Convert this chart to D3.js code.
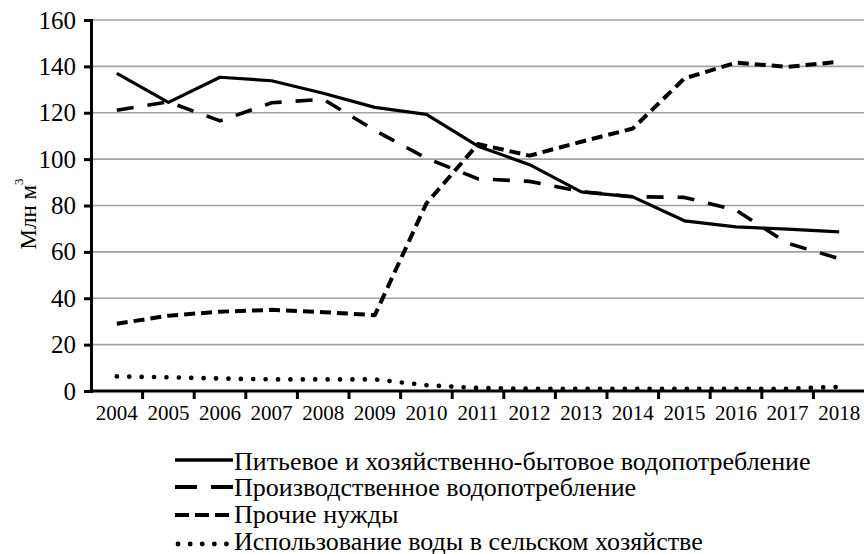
<!DOCTYPE html>
<html><head><meta charset="utf-8">
<script src="https://cdn.jsdelivr.net/npm/d3@7"></script>
<style>
html,body{margin:0;padding:0;background:#fff;}
svg{display:block;}
svg text{font-family:"Liberation Serif","Times New Roman",serif !important;}
</style></head>
<body>
<svg id="chart" width="864" height="554"></svg>
<script>
const years = ["2004","2005","2006","2007","2008","2009","2010","2011","2012","2013","2014","2015","2016","2017","2018"];
const drinking   = [137,124.5,135.3,133.8,128.4,122.3,119.3,105.6,97.6,85.9,83.7,73.4,70.8,69.8,68.6];
const industrial = [121.1,124.7,116.5,124.3,125.8,112.4,100.4,91.5,90.4,86,83.8,83.5,78,63.7,57.1];
const other      = [29,32.5,34.2,35,34,32.7,80.9,106.5,101.5,107.5,113.2,134.8,141.6,139.8,142];
const agriculture= [6.3,5.9,5.4,5,5,5,2.5,1.3,1,1,1,1,1,1,1.8];
const yTicks = [0,20,40,60,80,100,120,140,160];
const seriesNames = [
  "Питьевое и хозяйственно-бытовое водопотребление",
  "Производственное водопотребление",
  "Прочие нужды",
  "Использование воды в сельском хозяйстве"
];

const FONT = "Liberation Serif";
const svg = d3.select("#chart");
const mLeft = 91, mRight = 865, mTop = 20, mBottom = 391;

const x = d3.scaleBand().domain(years).range([mLeft, mRight]).padding(0);
const y = d3.scaleLinear().domain([0,160]).range([mBottom, mTop]);

// gridlines
svg.append("g").selectAll("line").data(yTicks.filter(d=>d>0)).join("line")
  .attr("x1", mLeft).attr("x2", 864)
  .attr("y1", d=>y(d)).attr("y2", d=>y(d))
  .attr("stroke", "#a0a0a0").attr("stroke-width", 1.6);

// y axis
const yAxis = svg.append("g").attr("transform", `translate(${mLeft},0)`)
  .call(d3.axisLeft(y).tickValues(yTicks).tickSize(7).tickPadding(8));
yAxis.attr("font-family", FONT);
yAxis.select(".domain").attr("stroke","#000").attr("stroke-width",3);
yAxis.selectAll(".tick line").attr("stroke","#000").attr("stroke-width",3);
yAxis.selectAll(".tick text").attr("font-size", 25).attr("fill","#000")
  .style("font-family", FONT);

// x axis
const xAxis = svg.append("g").attr("transform", `translate(0,${mBottom})`)
  .call(d3.axisBottom(x).tickSize(0).tickPadding(13));
xAxis.attr("font-family", FONT);
xAxis.select(".domain").remove();
xAxis.selectAll(".tick text").attr("font-size", 21).attr("fill","#000")
  .style("font-family", FONT).attr("dy","0.75em");
svg.append("line").attr("x1", mLeft-1.5).attr("x2", 864).attr("y1", mBottom).attr("y2", mBottom)
  .attr("stroke","#000").attr("stroke-width",3);
svg.append("g").selectAll("line").data(years.slice(1)).join("line")
  .attr("x1", d=>x(d)).attr("x2", d=>x(d))
  .attr("y1", mBottom).attr("y2", mBottom+8)
  .attr("stroke","#000").attr("stroke-width",3);

// y label
const yl = svg.append("text")
  .attr("transform", "translate(36,214) rotate(-90)")
  .attr("text-anchor","middle").attr("font-size",23).attr("fill","#000")
  .style("font-family", FONT);
yl.append("tspan").text("Млн м");
yl.append("tspan").text("3").attr("font-size",13).attr("dy",-13);

// lines
const styles = [
  {data: drinking, dash: null, width: 3.2, cap: "butt"},
  {data: industrial, dash: "17 14", width: 3.6, cap: "butt"},
  {data: other, dash: "11 6", width: 4, cap: "butt"},
  {data: agriculture, dash: "0.1 12.3", width: 4.6, cap: "round"}
];
const line = d3.line().x((d,i)=>x(years[i]) + x.bandwidth()/2).y(d=>y(d));
styles.forEach(s => {
  svg.append("path").datum(s.data)
    .attr("d", line)
    .attr("fill","none").attr("stroke","#000")
    .attr("stroke-width", s.width)
    .attr("stroke-linecap", s.cap)
    .attr("stroke-linejoin","round")
    .attr("stroke-dasharray", s.dash);
});

// legend
const legendStyles = [
  {dash: null, width: 3.6, cap: "butt"},
  {dash: "22 14", width: 4, cap: "butt"},
  {dash: "14 6", width: 4, cap: "butt"},
  {dash: "0.1 12", width: 4.8, cap: "round"}
];
const rowY = [461, 487.5, 514.5, 541];
const lineY = [460, 487, 515, 544];
const lg = svg.append("g");
seriesNames.forEach((name,i) => {
  const ls = legendStyles[i];
  const x0 = i===3 ? 178 : 175;
  lg.append("line").attr("x1", x0).attr("x2", 233)
    .attr("y1", lineY[i]).attr("y2", lineY[i])
    .attr("stroke","#000").attr("stroke-width", ls.width)
    .attr("stroke-linecap", ls.cap)
    .attr("stroke-dasharray", ls.dash);
  lg.append("text").attr("x", 234).attr("y", rowY[i]).attr("dy","0.33em")
    .attr("font-size", 26).attr("fill","#000").style("font-family", FONT).text(name);
});
</script>
</body></html>
